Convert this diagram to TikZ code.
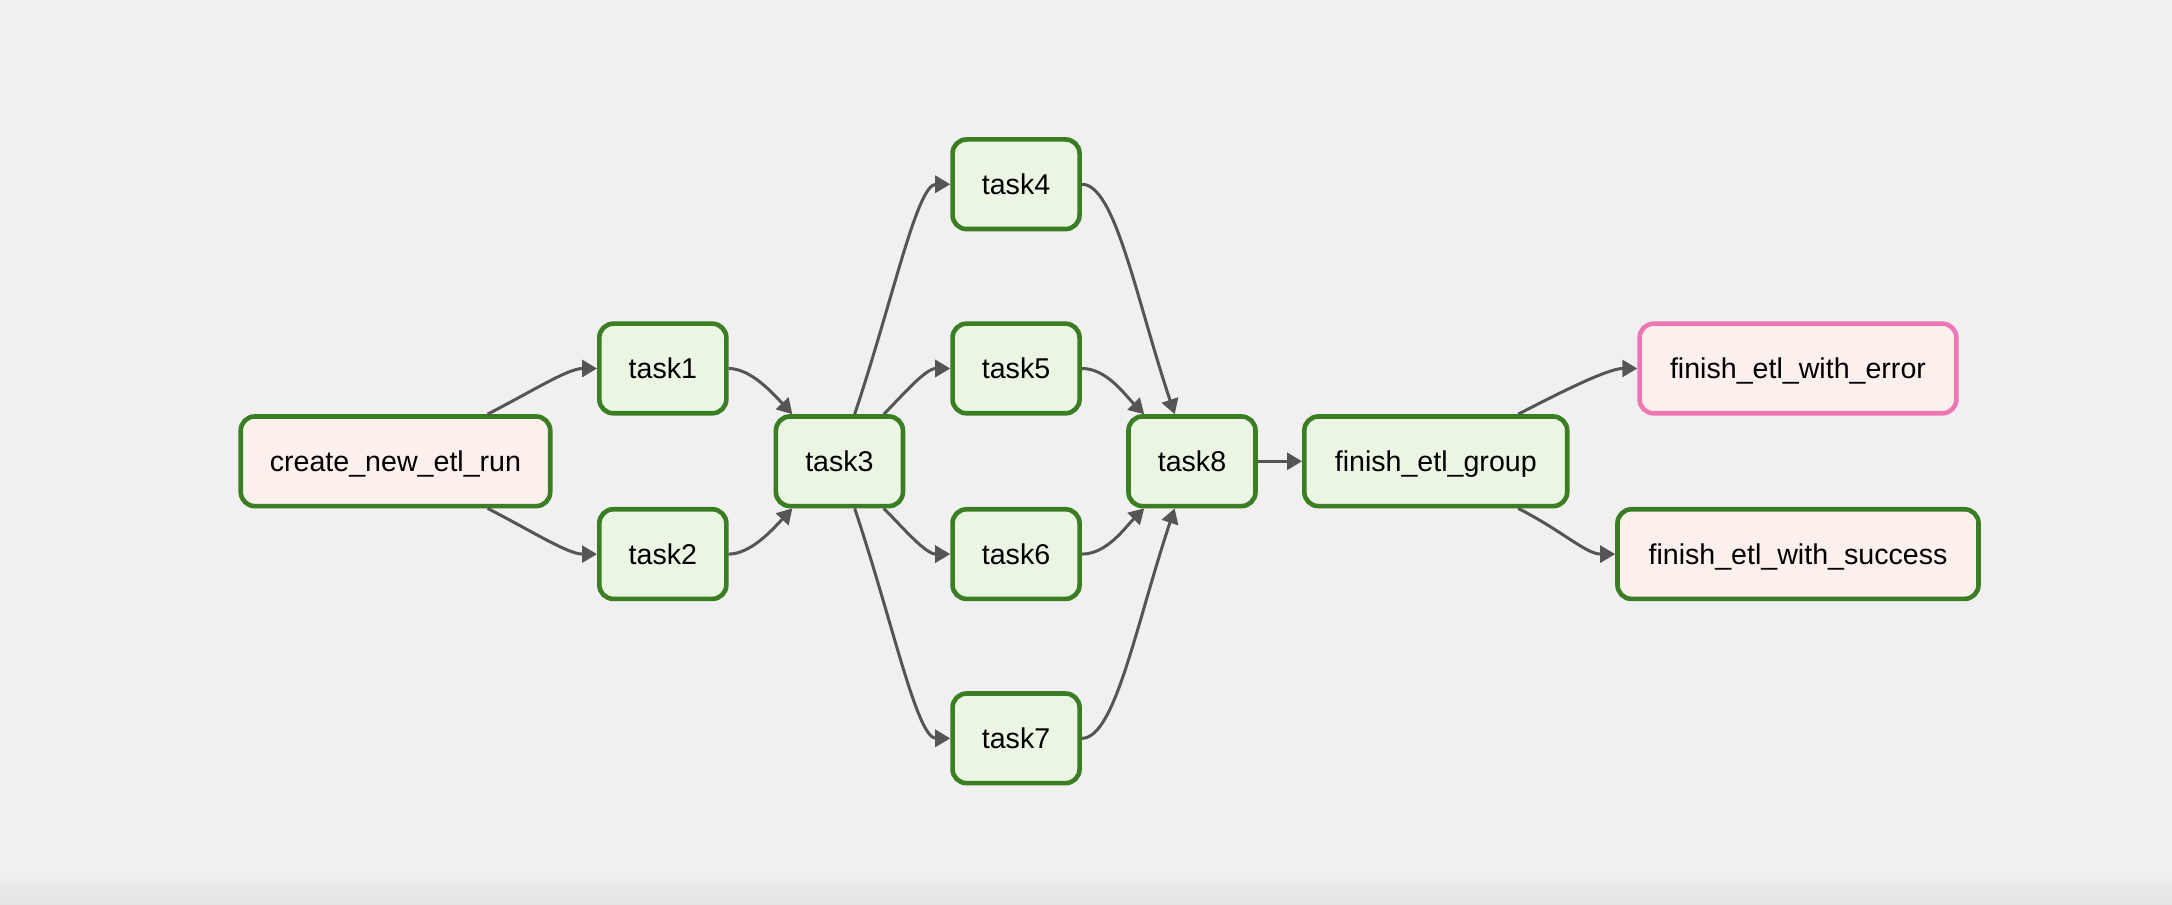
\documentclass[tikz,border=0pt]{standalone}
\usepackage{fontspec}
\setmainfont{Liberation Sans}
\usetikzlibrary{arrows.meta,calc}
\definecolor{bg}{HTML}{F0F0F0}
\definecolor{bgdark}{HTML}{E4E4E4}
\definecolor{okgreen}{HTML}{3A7D23}
\definecolor{taskfill}{HTML}{EAF5E3}
\definecolor{pinkfill}{HTML}{FBF0EC}
\definecolor{errpink}{HTML}{EE77B3}
\definecolor{edgegray}{HTML}{555555}
\begin{document}
\begin{tikzpicture}[x=0.6925pt,y=-0.6925pt,
  box/.style={draw=okgreen, line width=2.3pt, rounded corners=7pt, minimum height=44.8pt,
    inner sep=0pt, text=black, text height=10.3pt, text depth=0pt,
    font=\fontsize{14.3}{17}\selectfont},
  taskbox/.style={box, fill=taskfill, minimum width=63.5pt},
  edge/.style={draw=edgegray, line width=1.5pt, -{Triangle[length=7.5pt,width=8.5pt]}}]
\useasboundingbox (0,0) rectangle (1568,653);
\fill[bg] (0,0) rectangle (1568,653);
\shade[top color=bg, bottom color=bgdark] (0,628) rectangle (1568,653);

\node[box, fill=pinkfill, minimum width=154.7pt] (create) at (285.5,333) {create\_new\_etl\_run};
\node[taskbox] (task1) at (478.5,266) {task1};
\node[taskbox] (task2) at (478.5,400) {task2};
\node[taskbox] (task3) at (606,333) {task3};
\node[taskbox] (task4) at (733.5,133) {task4};
\node[taskbox] (task5) at (733.5,266) {task5};
\node[taskbox] (task6) at (733.5,400) {task6};
\node[taskbox] (task7) at (733.5,533) {task7};
\node[taskbox] (task8) at (860.5,333) {task8};
\node[box, fill=taskfill, minimum width=131.4pt] (group) at (1036.5,333) {finish\_etl\_group};
\node[box, draw=errpink, fill=pinkfill, minimum width=158.4pt] (error) at (1298,266) {finish\_etl\_with\_error};
\node[box, fill=pinkfill, minimum width=180.5pt] (success) at (1298,400) {finish\_etl\_with\_success};

\draw[edge] ($(create.north)+(66.5,0)$) .. controls +(33,-17) and +(-21,0) .. (task1.west);
\draw[edge] ($(create.south)+(66.5,0)$) .. controls +(33,17) and +(-21,0) .. (task2.west);
\draw[edge] (task1.east) .. controls +(16,0) and +(-14,-15) .. ($(task3.north)+(-34,0)$);
\draw[edge] (task2.east) .. controls +(16,0) and +(-14,15) .. ($(task3.south)+(-34,0)$);
\draw[edge] ($(task3.north)+(11,0)$) .. controls +(28,-84) and +(-24,0) .. (task4.west);
\draw[edge] ($(task3.north)+(32,0)$) .. controls +(14,-14) and +(-18,0) .. (task5.west);
\draw[edge] ($(task3.south)+(32,0)$) .. controls +(14,14) and +(-18,0) .. (task6.west);
\draw[edge] ($(task3.south)+(11,0)$) .. controls +(28,84) and +(-24,0) .. (task7.west);
\draw[edge] (task4.east) .. controls +(24,0) and +(-28,-84) .. ($(task8.north)+(-12.5,0)$);
\draw[edge] (task5.east) .. controls +(18,0) and +(-14,-14) .. ($(task8.north)+(-34.5,0)$);
\draw[edge] (task6.east) .. controls +(18,0) and +(-14,14) .. ($(task8.south)+(-34.5,0)$);
\draw[edge] (task7.east) .. controls +(24,0) and +(-28,84) .. ($(task8.south)+(-12.5,0)$);
\draw[edge] (task8.east) -- (group.west);
\draw[edge] ($(group.north)+(59.5,0)$) .. controls +(33,-17) and +(-21,0) .. (error.west);
\draw[edge] ($(group.south)+(59.5,0)$) .. controls +(33,17) and +(-21,0) .. (success.west);
\end{tikzpicture}
\end{document}
